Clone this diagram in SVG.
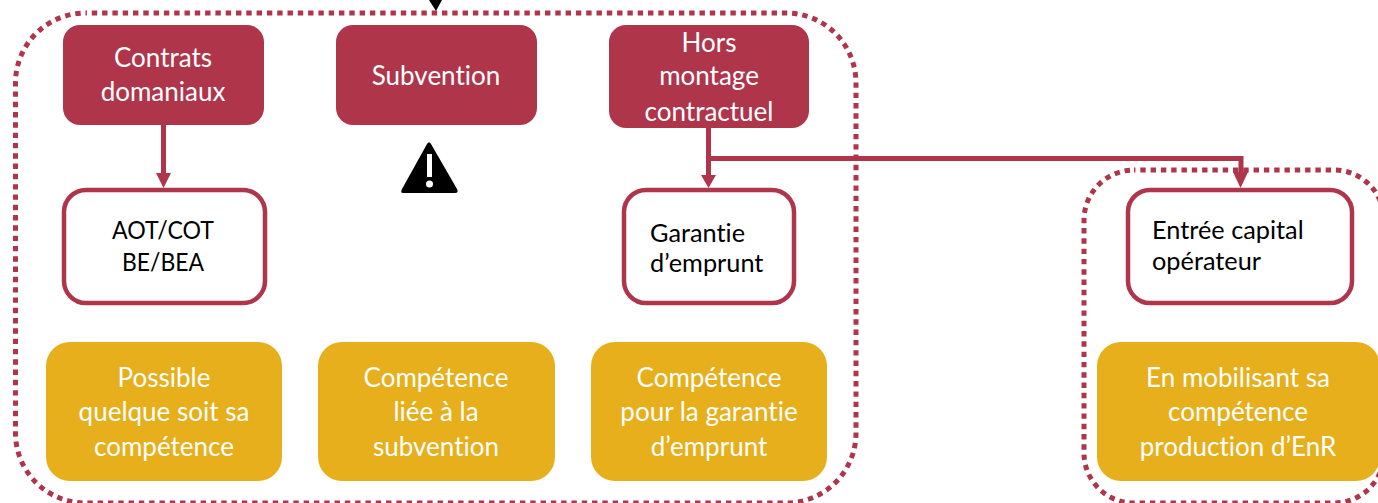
<svg xmlns="http://www.w3.org/2000/svg" width="1378" height="503" viewBox="0 0 1378 503">
<style>
text{font-family:"Lato","Carlito","Liberation Sans",sans-serif;font-size:26px;text-anchor:middle;font-variant-ligatures:none}
.r{fill:#AF354B}.y{fill:#E6AF1B}.w{fill:#fff;stroke:#AF354B;stroke-width:4.5}
.t{fill:#fff;transform:translateY(.8px)}.k{fill:#000;font-size:25.300px}.l{text-anchor:start}
.d{fill:none;stroke:#AF354B;stroke-width:5;stroke-dasharray:5.4 4.9;stroke-dashoffset:4}
.c{fill:none;stroke:#AF354B;stroke-width:5}
.h{fill:#AF354B}
</style>
<rect width="1378" height="503" fill="#fff"/>
<g id="containers">
<rect id="frame-left" class="d" x="15.500" y="13" width="840.500" height="490" rx="70"/>
<rect id="frame-right" class="d" x="1084" y="170" width="300" height="333" rx="50"/>
</g>
<g id="connectors">
<path class="c" d="M163.500 125V175"/>
<path class="h" d="M156 173H171L163.500 188Z"/>
<path class="c" d="M708.500 128V177M706 158.500H1241V172"/>
<path class="h" d="M701 175H716L708.500 188Z"/>
<path class="h" d="M1233 172H1248L1240.500 188Z"/>
<path d="M429 0H442L436 11Z" fill="#000"/>
</g>
<g id="n1"><rect class="r" x="63" y="25" width="201" height="100" rx="17"/><text class="t" x="163" y="66">Contrats</text><text class="t" x="163" y="100">domaniaux</text></g>
<g id="n2"><rect class="r" x="336" y="25" width="201" height="100" rx="17"/><text class="t" x="436" y="84">Subvention</text></g>
<g id="n3"><rect class="r" x="609" y="25" width="200" height="103" rx="17"/><text class="t" x="709" y="51">Hors</text><text class="t" x="709" y="84">montage</text><text class="t" x="709" y="120">contractuel</text></g>
<g id="warning"><path d="M429 142.500Q430 142 431 144L457 189Q459 193 455 193H403Q400 193 402 189L427 144Q428 142 429 142.500Z" fill="#000"/><rect x="427" y="154" width="5" height="23" fill="#fff"/><circle cx="429.500" cy="184" r="3.500" fill="#fff"/></g>
<g id="n4"><rect class="w" x="64" y="190" width="201" height="113" rx="22"/><text class="k" x="163" y="239" textLength="102" lengthAdjust="spacingAndGlyphs">AOT/COT</text><text class="k" x="163" y="271" textLength="82" lengthAdjust="spacingAndGlyphs">BE/BEA</text></g>
<g id="n5"><rect class="w" x="624" y="190" width="170" height="113" rx="22"/><text class="k l" x="650" y="242">Garantie</text><text class="k l" x="650" y="272">d’emprunt</text></g>
<g id="n6"><rect class="w" x="1128" y="190" width="224" height="113" rx="22"/><text class="k l" x="1152" y="239">Entrée capital</text><text class="k l" x="1152" y="270">opérateur</text></g>
<g id="n7"><rect class="y" x="46" y="342" width="236" height="139" rx="24"/><text class="t" x="164" y="386">Possible</text><text class="t" x="164" y="420">quelque soit sa</text><text class="t" x="164" y="455">compétence</text></g>
<g id="n8"><rect class="y" x="318" y="342" width="237" height="139" rx="24"/><text class="t" x="436" y="386">Compétence</text><text class="t" x="436" y="420">liée à la</text><text class="t" x="436" y="455">subvention</text></g>
<g id="n9"><rect class="y" x="591" y="342" width="236" height="139" rx="24"/><text class="t" x="709" y="386">Compétence</text><text class="t" x="709" y="420">pour la garantie</text><text class="t" x="709" y="455">d’emprunt</text></g>
<g id="n10"><rect class="y" x="1097" y="342" width="283" height="139" rx="24"/><text class="t" x="1238" y="386">En mobilisant sa</text><text class="t" x="1238" y="420">compétence</text><text class="t" x="1238" y="455">production d’EnR</text></g>
</svg>
